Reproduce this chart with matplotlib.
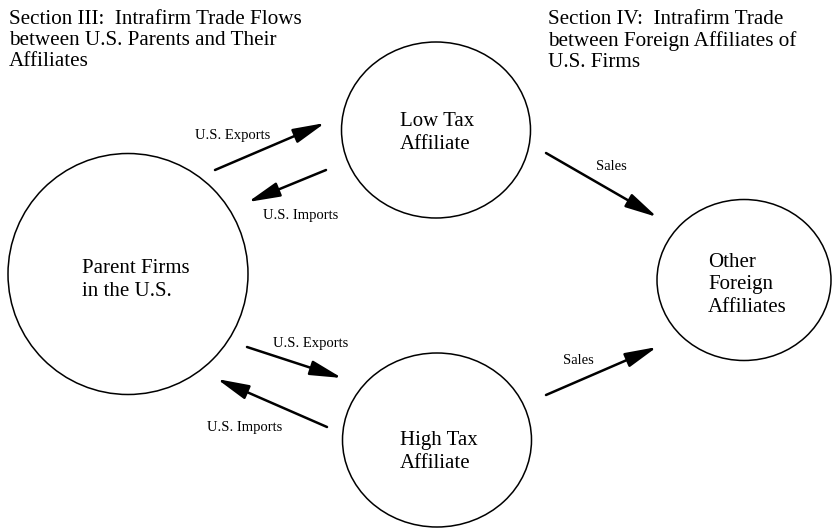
import matplotlib
matplotlib.use("Agg")
import matplotlib.pyplot as plt
from matplotlib.patches import Ellipse, FancyArrowPatch

plt.rcParams["font.family"] = ["Liberation Serif", "DejaVu Serif"]

# node labels
node_labels = [
    "Parent Firms\nin the U.S.",
    "Low Tax\nAffiliate",
    "High Tax\nAffiliate",
    "Other\nForeign\nAffiliates",
]

# flow labels (same order as arrow layout below)
flow_labels = [
    "U.S. Exports", "U.S. Imports", "Sales",
    "U.S. Exports", "U.S. Imports", "Sales",
]

section_titles = [
    "Section III:  Intrafirm Trade Flows\nbetween U.S. Parents and Their\nAffiliates",
    "Section IV:  Intrafirm Trade\nbetween Foreign Affiliates of\nU.S. Firms",
]

# layout in pixel coords (y down): ellipse centre, width, height, text anchor
node_shapes = [
    (128, 274, 240, 241),
    (436, 130, 189, 176),
    (437, 440, 189, 174),
    (744, 280, 174, 161),
]
node_text_pos = [(82, 280), (400, 133), (400, 452), (708, 285)]

# arrows: (x_start, y_start, x_tip, y_tip)
arrow_geom = [
    (215, 170, 325, 123),
    (326, 170, 248, 202),
    (546, 153, 657, 217),
    (247, 347, 342, 378),
    (327, 427, 217, 379),
    (546, 395, 657, 347),
]
flow_text_pos = [(233, 135), (301, 215), (611, 167), (311, 343), (245, 427), (578, 361)]
title_pos = [(9, 10), (548, 10)]

W, H = 832, 529
fig = plt.figure(figsize=(W / 100, H / 100), dpi=100)
ax = fig.add_axes([0, 0, 1, 1])
ax.set_xlim(0, W)
ax.set_ylim(H, 0)
ax.axis("off")

for (cx, cy, w, h), (tx, ty), label in zip(node_shapes, node_text_pos, node_labels):
    ax.add_patch(Ellipse((cx, cy), w, h, fill=False, edgecolor="black", linewidth=1.1))
    ax.text(tx, ty, label, ha="left", va="center", fontsize=15,
            multialignment="left", linespacing=1.24)

for (x1, y1, x2, y2) in arrow_geom:
    ax.add_patch(FancyArrowPatch(
        (x1, y1), (x2, y2),
        arrowstyle="-|>,head_length=1.3,head_width=0.3",
        mutation_scale=15, linewidth=1.8, color="black",
        shrinkA=0, shrinkB=0,
    ))

for (tx, ty), label in zip(flow_text_pos, flow_labels):
    ax.text(tx, ty, label, ha="center", va="center", fontsize=10.5)

for (tx, ty), title in zip(title_pos, section_titles):
    ax.text(tx, ty, title, ha="left", va="top", fontsize=15.2, linespacing=1.14)

fig.savefig("out.png", dpi=100)
plt.close(fig)
